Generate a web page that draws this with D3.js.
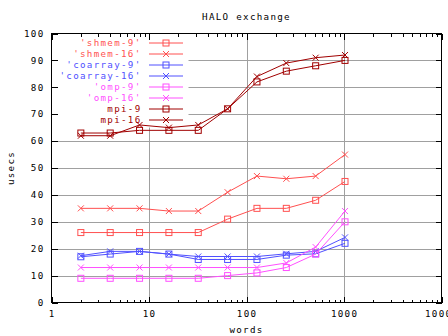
<!DOCTYPE html>
<html><head><meta charset="utf-8">
<script src="https://cdn.jsdelivr.net/npm/d3@7"></script>
<style>body{margin:0;background:#fff}svg{display:block}text{font-family:"DejaVu Sans Mono","Liberation Mono",monospace;font-size:9.2px;letter-spacing:1.3px}</style>
</head><body>
<script>
const words = [2,4,8,16,32,64,128,256,512,1024];
const shmem9 = [26,26,26,26,26,31,35,35,38,45];
const shmem16 = [35,35,35,34,34,41,47,46,47,55];
const coarray9 = [17,18,19,18,16,16,16,17.6,18.1,22];
const coarray16 = [17.4,19,19,18,17.1,17.1,17.1,18.1,19,24.2];
const omp9 = [9,9,9,9,9,10,11,13,18,30];
const omp16 = [13,13,13,13,13,13,13,14.7,20.6,34];
const mpi9 = [63,63,64,64,64,72,82,86,88,90];
const mpi16 = [62,62,66,65,66,72,84,89,91,92];
const xTicks = [1,10,100,1000,10000];
const yTicks = [0,10,20,30,40,50,60,70,80,90,100];
const seriesNames = ["'shmem-9'","'shmem-16'","'coarray-9'","'coarray-16'","'omp-9'","'omp-16'","mpi-9","mpi-16"];
const seriesColors = ["#ff5050","#ff5050","#5050ff","#5050ff","#ff50ff","#ff50ff","#a00000","#a00000"];
const seriesMarks = ["square","cross","square","cross","square","cross","square","cross"];
const seriesData = [shmem9,shmem16,coarray9,coarray16,omp9,omp16,mpi9,mpi16];

const W=448,H=336, L=51.5, R=441.5, T=33.5, B=302.5;
const svg=d3.select("body").append("svg").attr("width",W).attr("height",H);
const x=d3.scaleLog().domain([1,10000]).range([L,R]);
const y=d3.scaleLinear().domain([0,100]).range([B,T]);

const grid=svg.append("g").attr("stroke","#a0a0a0").attr("stroke-width",1);
xTicks.slice(1,-1).forEach(t=>grid.append("line").attr("x1",Math.round(x(t))+0.5).attr("x2",Math.round(x(t))+0.5).attr("y1",T).attr("y2",B));
yTicks.slice(1,-1).forEach(t=>grid.append("line").attr("x1",L).attr("x2",R).attr("y1",Math.round(y(t))+0.5).attr("y2",Math.round(y(t))+0.5));
svg.append("rect").attr("x",L+0.5).attr("y",T+0.5).attr("width",188-L).attr("height",127-T).attr("fill","#fff");

const minor=[];
for(let d=1;d<10000;d*=10) for(let k=2;k<=9;k++) minor.push(d*k);
const ax=svg.append("g").attr("stroke","#000").attr("stroke-width",1).attr("shape-rendering","crispEdges");
ax.append("rect").attr("x",L).attr("y",T).attr("width",R-L).attr("height",B-T).attr("fill","none");
xTicks.forEach(t=>{const px=Math.round(x(t))+0.5;
  ax.append("line").attr("x1",px).attr("x2",px).attr("y1",B).attr("y2",B-6);
  ax.append("line").attr("x1",px).attr("x2",px).attr("y1",T).attr("y2",T+6);});
minor.forEach(t=>{const px=Math.round(x(t))+0.5;
  ax.append("line").attr("x1",px).attr("x2",px).attr("y1",B).attr("y2",B-3);
  ax.append("line").attr("x1",px).attr("x2",px).attr("y1",T).attr("y2",T+3);});
yTicks.forEach(t=>{const py=Math.round(y(t))+0.5;
  ax.append("line").attr("x1",L).attr("x2",L+6).attr("y1",py).attr("y2",py);
  ax.append("line").attr("x1",R).attr("x2",R-6).attr("y1",py).attr("y2",py);});

yTicks.forEach(t=>svg.append("text").attr("x",44.5).attr("y",y(t)).attr("dy","0.35em").attr("text-anchor","end").text(t));
xTicks.forEach(t=>svg.append("text").attr("x",x(t)+0.6).attr("y",317).attr("text-anchor","middle").text(t));
svg.append("text").attr("x",(L+R)/2).attr("y",333).attr("text-anchor","middle").text("words");
svg.append("text").attr("transform","translate(14,168) rotate(-90)").attr("text-anchor","middle").text("usecs");
svg.append("text").attr("x",(L+R)/2).attr("y",20).attr("text-anchor","middle").text("HALO exchange");

function mark(g,kind,cx,cy,col){
  if(kind==="square") g.append("rect").attr("x",cx-3).attr("y",cy-3).attr("width",6).attr("height",6).attr("fill","none").attr("stroke",col);
  else { g.append("path").attr("d",`M${cx-3},${cy-3}L${cx+3},${cy+3}M${cx-3},${cy+3}L${cx+3},${cy-3}`).attr("stroke",col).attr("fill","none"); }
}
const line=d3.line().x((d,i)=>x(words[i])).y(d=>y(d));
seriesData.forEach((s,k)=>{
  const g=svg.append("g");
  g.append("path").attr("d",line(s)).attr("fill","none").attr("stroke",seriesColors[k]).attr("stroke-width",1);
  s.forEach((v,i)=>mark(g,seriesMarks[k],x(words[i]),y(v),seriesColors[k]));
});
seriesNames.forEach((n,k)=>{
  const ly=43+k*11;
  svg.append("text").attr("x",141.5).attr("y",ly).attr("dy","0.35em").attr("text-anchor","end").attr("fill",seriesColors[k]).text(n);
  const g=svg.append("g");
  g.append("line").attr("x1",149).attr("x2",183).attr("y1",ly).attr("y2",ly).attr("stroke",seriesColors[k]);
  mark(g,seriesMarks[k],166,ly,seriesColors[k]);
});
</script>
</body></html>
